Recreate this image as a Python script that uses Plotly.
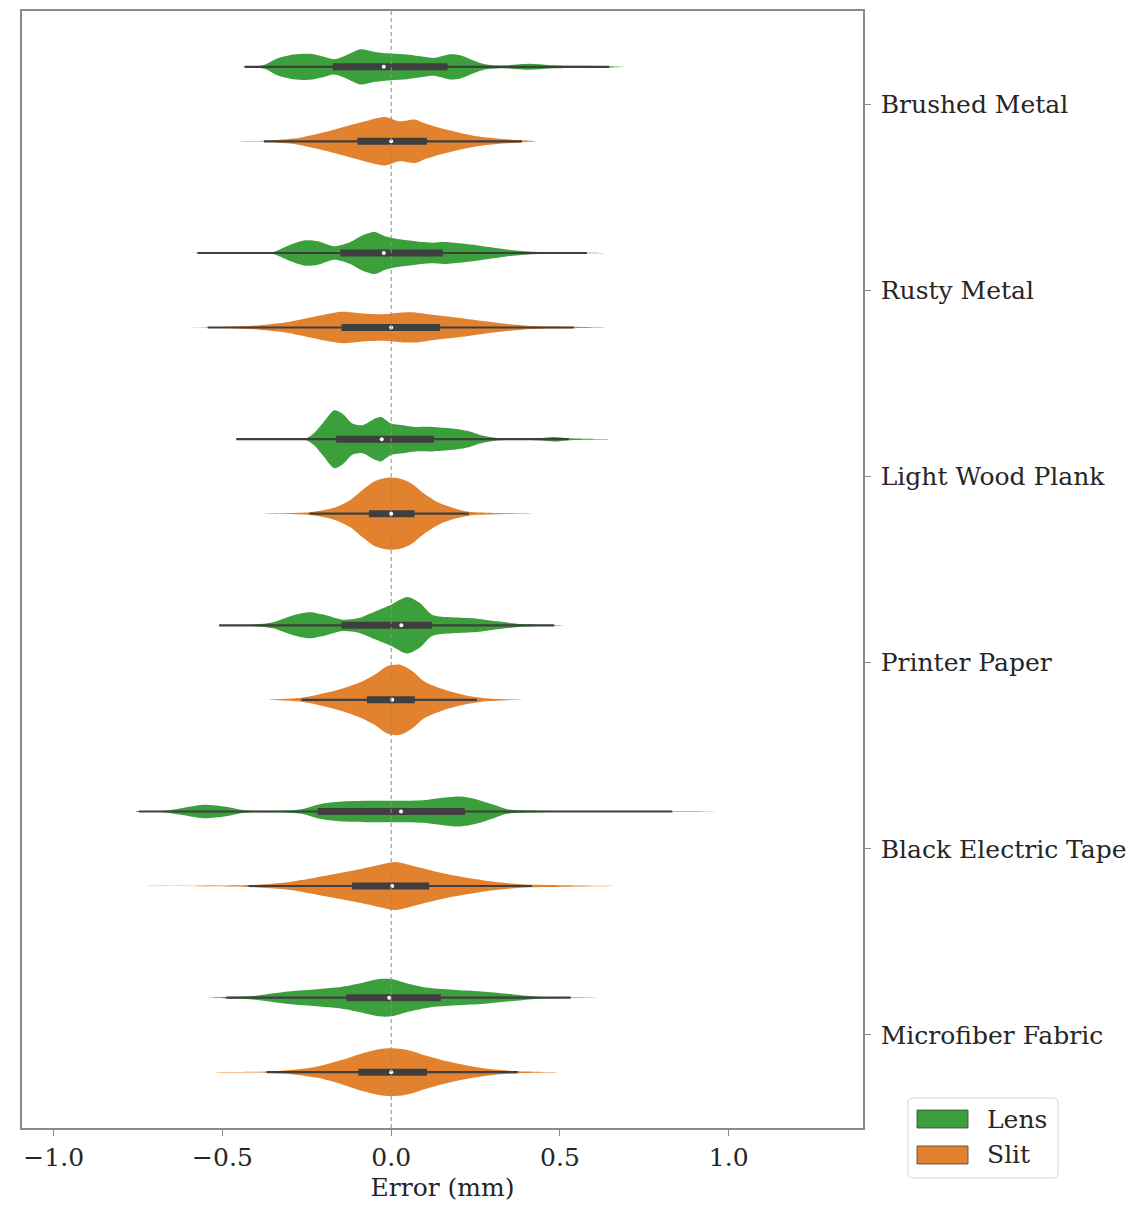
import plotly.graph_objects as go

# ---------------- data ----------------
categories = ["Brushed Metal", "Rusty Metal", "Light Wood Plank",
              "Printer Paper", "Black Electric Tape", "Microfiber Fabric"]
series_names = ["Lens", "Slit"]

# density profiles (x in mm, density in arbitrary units)
brushed_lens_x = [-0.45, -0.40, -0.375, -0.338, -0.29, -0.242, -0.205, -0.169, -0.133, -0.091, -0.048, 0.0, 0.048,
                  0.097, 0.127, 0.175, 0.205, 0.242, 0.278, 0.326, 0.411, 0.471, 0.556, 0.646, 0.70]
brushed_lens_d = [0, 0.6, 2.0, 8.3, 12.3, 13, 10.7, 7.7, 11.7, 17.7, 15, 13.3, 12.3,
                  10, 9, 12.7, 11.7, 6.7, 2.7, 1.3, 3, 1.7, 1, 0.7, 0]
brushed_slit_x = [-0.495, -0.375, -0.29, -0.23, -0.169, -0.109, -0.06, -0.018, 0.024, 0.072, 0.097, 0.145,
                  0.193, 0.254, 0.314, 0.387, 0.435]
brushed_slit_d = [0, 0.5, 2.7, 6.7, 11.7, 17.3, 21.7, 24.3, 20.0, 21.7, 18.3, 13.3,
                  9.3, 5, 2.7, 1, 0]

rusty_lens_x = [-0.62, -0.41, -0.35, -0.302, -0.254, -0.217, -0.169, -0.121, -0.085, -0.048, -0.018, 0.024,
                0.072, 0.121, 0.157, 0.217, 0.29, 0.362, 0.435, 0.58, 0.665]
rusty_lens_d = [0, 0.5, 1, 7.7, 12.7, 11.7, 6.7, 11, 17.7, 21, 16.7, 13.7,
                11.7, 10.3, 11, 9.3, 6, 2.7, 1, 0.3, 0]
rusty_slit_x = [-0.65, -0.53, -0.41, -0.314, -0.254, -0.193, -0.145, -0.085, -0.024, 0.036, 0.072, 0.121,
                0.193, 0.266, 0.35, 0.435, 0.541, 0.64]
rusty_slit_d = [0, 0.3, 1.7, 5, 9, 13.3, 15.7, 14, 13.3, 15, 15, 12.7,
                10, 6.7, 3.3, 1.3, 0.7, 0]

wood_lens_x = [-0.46, -0.30, -0.254, -0.23, -0.2, -0.169, -0.145, -0.115, -0.085, -0.048, -0.03, 0.0, 0.036,
               0.072, 0.121, 0.181, 0.23, 0.266, 0.314, 0.435, 0.483, 0.526, 0.665]
wood_lens_d = [0, 0.3, 0.7, 5.7, 17.3, 29, 25.7, 15.7, 14, 20.7, 22.3, 15.7, 14,
               12.3, 12.3, 10.7, 8, 4, 1.3, 1, 2.3, 1, 0]
wood_slit_x = [-0.375, -0.242, -0.169, -0.121, -0.085, -0.048, -0.012, 0.024, 0.06, 0.097, 0.145, 0.193,
               0.23, 0.314, 0.435]
wood_slit_d = [0, 1.3, 6, 13.7, 23.7, 32.7, 36, 35.3, 30.3, 20.3, 10.3, 4.7,
               2, 0.7, 0]

paper_lens_x = [-0.556, -0.41, -0.35, -0.29, -0.242, -0.193, -0.145, -0.097, -0.048, 0.0, 0.048, 0.085,
                0.121, 0.181, 0.254, 0.314, 0.387, 0.483, 0.53]
paper_lens_d = [0, 0.7, 3, 10, 13, 10, 5.7, 7.3, 14, 20.7, 28.3, 22.3,
                10.7, 8, 6.7, 4, 1.3, 0.3, 0]
paper_slit_x = [-0.362, -0.266, -0.193, -0.133, -0.085, -0.048, -0.012, 0.024, 0.06, 0.097, 0.157, 0.218,
                0.29, 0.40]
paper_slit_d = [0, 2, 7, 12.7, 18.7, 25.3, 33.7, 35.3, 29.3, 18.7, 10.3, 4.7,
                1.3, 0]

tape_lens_x = [-0.76, -0.747, -0.675, -0.622, -0.556, -0.489, -0.437, -0.344, -0.265, -0.212, -0.146, -0.066,
               0.0, 0.093, 0.159, 0.205, 0.251, 0.304, 0.344, 0.45, 0.833, 1.045]
tape_lens_d = [0, 0.5, 0.7, 3.3, 6.7, 4.7, 1.3, 0.7, 2.3, 7.3, 10, 10.7,
               10.7, 11.3, 14, 15, 12.3, 6.7, 2.3, 0.7, 0.3, 0]
tape_slit_x = [-0.74, -0.423, -0.317, -0.251, -0.172, -0.093, -0.026, 0.013, 0.066, 0.146, 0.225, 0.304,
               0.384, 0.516, 0.675]
tape_slit_d = [0, 1, 3.3, 6.7, 11.7, 16.7, 21.7, 24, 20, 13.3, 8.3, 4.3,
               1.7, 0.7, 0]

fabric_lens_x = [-0.544, -0.489, -0.41, -0.314, -0.23, -0.145, -0.085, -0.036, 0.0, 0.048, 0.109, 0.193,
                 0.278, 0.362, 0.435, 0.532, 0.725]
fabric_lens_d = [0, 0.7, 1.7, 6, 8.3, 11, 15, 18.7, 18.7, 14.3, 10, 7.7,
                 6, 3.3, 1, 0.3, 0]
fabric_slit_x = [-0.53, -0.369, -0.29, -0.218, -0.145, -0.085, -0.036, 0.0, 0.048, 0.097, 0.169, 0.242,
                 0.314, 0.375, 0.508]
fabric_slit_d = [0, 0.7, 2.3, 5.7, 12.3, 19, 23, 24, 22.3, 17.3, 10.7, 5.7,
                 2.3, 1, 0]

# box statistics per category (whisker low, q1, median, q3, whisker high)
lens_lo = [-0.435, -0.574, -0.459, -0.510, -0.747, -0.489]
lens_q1 = [-0.173, -0.151, -0.163, -0.147, -0.218, -0.133]
lens_med = [-0.022, -0.022, -0.028, 0.030, 0.029, -0.006]
lens_q3 = [0.167, 0.153, 0.127, 0.121, 0.218, 0.147]
lens_hi = [0.646, 0.580, 0.526, 0.483, 0.833, 0.532]

slit_lo = [-0.377, -0.544, -0.242, -0.266, -0.423, -0.369]
slit_q1 = [-0.100, -0.147, -0.066, -0.072, -0.116, -0.097]
slit_med = [0.000, 0.000, 0.000, 0.003, 0.003, 0.000]
slit_q3 = [0.106, 0.145, 0.069, 0.070, 0.112, 0.106]
slit_hi = [0.387, 0.541, 0.230, 0.254, 0.417, 0.375]

x_tick_vals = [-1.0, -0.5, 0.0, 0.5, 1.0]
x_tick_text = ["\u22121.0", "\u22120.5", "0.0", "0.5", "1.0"]

# ---------------- styling ----------------
GREEN = "#3ba03b"
ORANGE = "#e2822f"
BOX = "#3f3f3f"
SPINE = "#8a8a8a"
FONT = "DejaVu Serif"
FS = 25
DENSITY_TO_HALFWIDTH = 0.2 / 37.3
OFFSET = 0.2

lens_profiles = [(brushed_lens_x, brushed_lens_d), (rusty_lens_x, rusty_lens_d), (wood_lens_x, wood_lens_d),
                 (paper_lens_x, paper_lens_d), (tape_lens_x, tape_lens_d), (fabric_lens_x, fabric_lens_d)]
slit_profiles = [(brushed_slit_x, brushed_slit_d), (rusty_slit_x, rusty_slit_d), (wood_slit_x, wood_slit_d),
                 (paper_slit_x, paper_slit_d), (tape_slit_x, tape_slit_d), (fabric_slit_x, fabric_slit_d)]

fig = go.Figure()


def add_violin(xs, ds, center, color):
    hw = [d * DENSITY_TO_HALFWIDTH for d in ds]
    px = list(xs) + list(xs)[::-1]
    py = [center - h for h in hw] + [center + h for h in hw][::-1]
    fig.add_trace(go.Scatter(x=px, y=py, mode="lines", fill="toself", fillcolor=color,
                             line=dict(width=0, color=color, shape="spline", smoothing=0.8),
                             hoverinfo="skip", showlegend=False))


def add_box(center, lo, q1, med, q3, hi):
    fig.add_trace(go.Scatter(x=[lo, hi], y=[center, center], mode="lines",
                             line=dict(color=BOX, width=2.2), showlegend=False, hoverinfo="skip"))
    fig.add_trace(go.Scatter(x=[q1, q3], y=[center, center], mode="lines",
                             line=dict(color=BOX, width=7), showlegend=False, hoverinfo="skip"))
    fig.add_trace(go.Scatter(x=[med], y=[center], mode="markers",
                             marker=dict(color="white", size=4, line=dict(width=0)),
                             showlegend=False, hoverinfo="skip"))


for i in range(len(categories)):
    add_violin(*lens_profiles[i], i - OFFSET, GREEN)
    add_violin(*slit_profiles[i], i + OFFSET, ORANGE)

for i in range(len(categories)):
    add_box(i - OFFSET, lens_lo[i], lens_q1[i], lens_med[i], lens_q3[i], lens_hi[i])
    add_box(i + OFFSET, slit_lo[i], slit_q1[i], slit_med[i], slit_q3[i], slit_hi[i])

# zero reference line
fig.add_shape(type="line", xref="x", yref="paper", x0=0, x1=0, y0=0, y1=1,
              line=dict(color="#8c8c8c", width=1, dash="4px,3px"), layer="above")

# ---------------- geometry (page has an 8px body margin) ----------------
PAGE = 8
W, H = 1141 - 2 * PAGE, 1210 - 2 * PAGE
PLOT_L, PLOT_R, PLOT_T, PLOT_B = 22, 863, 9, 1128      # target window pixels
L = PLOT_L - PAGE
T = PLOT_T - PAGE
R = W - (PLOT_R - PAGE)
B = H - (PLOT_B - PAGE)
pw, ph = W - L - R, H - T - B


def px2x(p):
    return (p - PAGE - L) / pw


def px2y(p):
    return (H - B - (p - PAGE)) / ph


# ---------------- manual legend ----------------
bx0, bx1, by0, by1, r = 908, 1058, 1098, 1178, 5
path = (f"M {px2x(bx0 + r)} {px2y(by0)} L {px2x(bx1 - r)} {px2y(by0)} "
        f"Q {px2x(bx1)} {px2y(by0)} {px2x(bx1)} {px2y(by0 + r)} "
        f"L {px2x(bx1)} {px2y(by1 - r)} Q {px2x(bx1)} {px2y(by1)} {px2x(bx1 - r)} {px2y(by1)} "
        f"L {px2x(bx0 + r)} {px2y(by1)} Q {px2x(bx0)} {px2y(by1)} {px2x(bx0)} {px2y(by1 - r)} "
        f"L {px2x(bx0)} {px2y(by0 + r)} Q {px2x(bx0)} {px2y(by0)} {px2x(bx0 + r)} {px2y(by0)} Z")
fig.add_shape(type="path", path=path, xref="paper", yref="paper",
              line=dict(color="#d5d5d5", width=1), fillcolor="rgba(255,255,255,0.8)")

for k, (name, col) in enumerate(zip(series_names, [GREEN, ORANGE])):
    yc = 1119 + k * 36
    fig.add_shape(type="rect", xref="paper", yref="paper",
                  x0=px2x(917), x1=px2x(968), y0=px2y(yc - 9), y1=px2y(yc + 9),
                  fillcolor=col, line=dict(color=BOX, width=0.8))
    fig.add_annotation(xref="paper", yref="paper", x=px2x(985), y=px2y(yc), text=name,
                       showarrow=False, xanchor="left", yanchor="middle",
                       font=dict(family=FONT, size=FS, color="#262626"))

fig.update_layout(
    width=W, height=H,
    margin=dict(l=L, r=R, t=T, b=B, pad=0),
    plot_bgcolor="white", paper_bgcolor="white",
    font=dict(family=FONT, size=FS, color="#262626"),
    showlegend=False,
    xaxis=dict(range=[-1.094, 1.398], tickvals=x_tick_vals, ticktext=x_tick_text,
               showgrid=False, zeroline=False, showline=True, linecolor=SPINE, linewidth=1.5,
               mirror=True, ticks="outside", ticklen=6, tickwidth=1.2, tickcolor=SPINE,
               title=dict(text="Error (mm)", font=dict(family=FONT, size=FS), standoff=12),
               tickfont=dict(family=FONT, size=FS)),
    yaxis=dict(range=[5.5, -0.5], tickvals=list(range(len(categories))), ticktext=categories,
               side="right", showgrid=False, zeroline=False, showline=True, linecolor=SPINE,
               linewidth=1.5, mirror=True, ticks="outside", ticklen=6, tickwidth=1.2,
               tickcolor=SPINE, ticklabelstandoff=5, tickfont=dict(family=FONT, size=FS)),
)

fig.write_html("out.html")
